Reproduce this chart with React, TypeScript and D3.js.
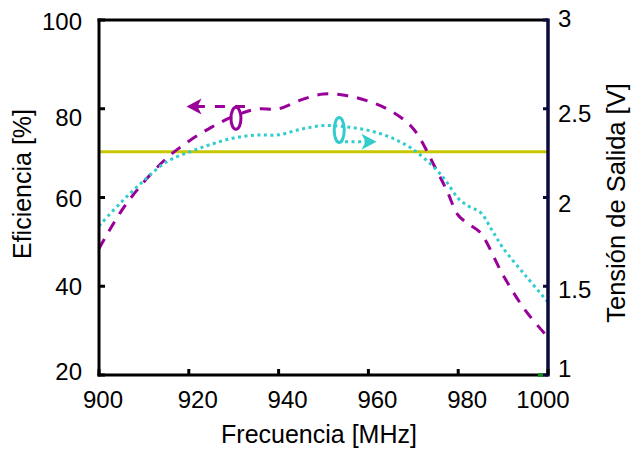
import React from "react";
import * as d3 from "d3";

// ---------- data ----------
const freqTicks = [900, 920, 940, 960, 980, 1000];
const effTicks = [20, 40, 60, 80, 100];
const voltTicks = [1, 1.5, 2, 2.5, 3];

const effFreq = [900, 905, 910, 915, 920, 925, 930, 935, 940, 945, 950, 955, 960, 965, 970, 975, 977.5, 980, 982.5, 985, 990, 995, 1000];
const effValues = [48.5, 57, 63.5, 68.8, 72.7, 75.8, 78.3, 79.9, 80, 82, 83.3, 83, 81.7, 79.5, 75.5, 66.5, 61.5, 56, 53.9, 52, 42.5, 34.5, 28.5];

const voltFreq = [900, 905, 910, 915, 920, 925, 930, 935, 940, 945, 950, 955, 960, 965, 970, 975, 977.5, 980, 982.5, 985, 987.5, 990, 995, 1000];
const voltValues = [1.84, 1.975, 2.095, 2.2, 2.255, 2.3, 2.335, 2.352, 2.353, 2.385, 2.405, 2.398, 2.378, 2.338, 2.27, 2.16, 2.085, 1.995, 1.948, 1.915, 1.817, 1.715, 1.56, 1.41];

const refFreq = [900, 1000];
const refEff = [70.3, 70.3];

const xLabel = "Frecuencia [MHz]";
const yLeftLabel = "Eficiencia [%]";
const yRightLabel = "Tensión de Salida [V]";

// ---------- layout / style ----------
const W = 632;
const H = 451;
const L = 99, R = 548, T = 20, B = 375;
const PURPLE = "#990099";
const CYAN = "#33cccc";
const YELLOW = "#c8c800";
const NAVY = "#0a0a3c";
const FONT = "'Liberation Sans', Arial, sans-serif";

export default function App() {
  const x = d3.scaleLinear().domain([900, 1000]).range([L, R]);
  const yL = d3.scaleLinear().domain([20, 100]).range([B, T]);
  const yR = d3.scaleLinear().domain([1, 3]).range([B, T]);

  const effPts: [number, number][] = effFreq.map((f, i) => [f, effValues[i]]);
  const voltPts: [number, number][] = voltFreq.map((f, i) => [f, voltValues[i]]);
  const refPts: [number, number][] = refFreq.map((f, i) => [f, refEff[i]]);

  const effLine = d3.line<[number, number]>().x(d => x(d[0])).y(d => yL(d[1])).curve(d3.curveCatmullRom.alpha(0.5));
  const voltLine = d3.line<[number, number]>().x(d => x(d[0])).y(d => yR(d[1])).curve(d3.curveCatmullRom.alpha(0.5));
  const refLine = d3.line<[number, number]>().x(d => x(d[0])).y(d => yL(d[1]));

  const bottomDx = (t: number) => (t === 900 ? 4 : t === 1000 ? -5 : 9);
  const leftDy: Record<number, number> = { 100: 1.5, 80: 9, 60: 1, 40: 0, 20: -3.5 };
  const rightDy: Record<number, number> = { 3: -1.5, 2.5: 4.5, 2: 6, 1.5: 3.5, 1: -7 };

  // annotations (data coords)
  const pEx = x(930.5), pEy = yL(77.85);
  const pArrowY = yL(80.5), pTip = x(919.5), pStart = x(932.5);
  const cEx = x(953.5), cEy = yR(2.38);
  const cArrowY = yR(2.314), cTip = x(961.8), cStart = x(954.8);

  return (
    <svg width={W} height={H} style={{ position: "absolute", left: 0, top: 0, background: "#fff" }} fontFamily={FONT}>
      <rect x={0} y={0} width={W} height={H} fill="#fff" />
      {/* reference line */}
      <path d={refLine(refPts) || ""} stroke={YELLOW} strokeWidth={3} fill="none" />
      {/* efficiency */}
      <path d={effLine(effPts) || ""} stroke={PURPLE} strokeWidth={3} fill="none" strokeDasharray="11,9" />
      {/* voltage */}
      <path d={voltLine(voltPts) || ""} stroke={CYAN} strokeWidth={3} fill="none" strokeDasharray="3,3.5" />

      {/* purple annotation */}
      <ellipse cx={pEx} cy={pEy} rx={5} ry={11} stroke={PURPLE} strokeWidth={3} fill="none" />
      <line x1={pStart} y1={pArrowY} x2={pTip + 10} y2={pArrowY} stroke={PURPLE} strokeWidth={3} strokeDasharray="10,10" />
      <path d={`M${pTip},${pArrowY} L${pTip + 15},${pArrowY - 8} L${pTip + 11},${pArrowY} L${pTip + 15},${pArrowY + 8} Z`} fill={PURPLE} />

      {/* cyan annotation */}
      <ellipse cx={cEx} cy={cEy} rx={5} ry={12.5} stroke={CYAN} strokeWidth={3} fill="none" />
      <line x1={cStart} y1={cArrowY} x2={cTip - 10} y2={cArrowY} stroke={CYAN} strokeWidth={3} strokeDasharray="3,3.5" />
      <path d={`M${cTip},${cArrowY} L${cTip - 15},${cArrowY - 8} L${cTip - 11},${cArrowY} L${cTip - 15},${cArrowY + 8} Z`} fill={CYAN} />

      {/* frame */}
      <line x1={L - 1.5} y1={T} x2={R} y2={T} stroke="#000" strokeWidth={3} />
      <line x1={L - 1.5} y1={B} x2={R} y2={B} stroke="#000" strokeWidth={3} />
      <line x1={L} y1={T - 1.5} x2={L} y2={B + 1.5} stroke="#000" strokeWidth={3} />
      <line x1={R} y1={T - 1.5} x2={R} y2={B + 1.5} stroke={NAVY} strokeWidth={3.5} />

      {/* tiny markers */}
      <rect x={538} y={373} width={5} height={4} fill="#1a8a1a" />

      {/* left ticks */}
      {effTicks.map(t => (
        <g key={"l" + t}>
          <line x1={L} x2={L + 6} y1={yL(t)} y2={yL(t)} stroke="#000" strokeWidth={3} />
          <text x={82} y={yL(t) + 8.5 + leftDy[t]} textAnchor="end" fontSize={24} fill="#000">{t}</text>
        </g>
      ))}
      {/* right ticks */}
      {voltTicks.map(t => (
        <g key={"r" + t}>
          <line x1={R - 5} x2={R} y1={yR(t)} y2={yR(t)} stroke={NAVY} strokeWidth={3} />
          <text x={558} y={yR(t) + 8.5 + rightDy[t]} textAnchor="start" fontSize={24} fill="#000">{t}</text>
        </g>
      ))}
      {/* bottom ticks */}
      {freqTicks.map(t => (
        <g key={"b" + t}>
          <line x1={x(t)} x2={x(t)} y1={B - 6} y2={B} stroke="#000" strokeWidth={3} />
          <text x={x(t) + bottomDx(t)} y={408} textAnchor="middle" fontSize={24} fill="#000">{t}</text>
        </g>
      ))}

      {/* titles */}
      <text x={319} y={443} textAnchor="middle" fontSize={25} fill="#000">{xLabel}</text>
      <text transform={`translate(31,184) rotate(-90)`} textAnchor="middle" fontSize={25} fill="#000">{yLeftLabel}</text>
      <text transform={`translate(625,203) rotate(-90)`} textAnchor="middle" fontSize={25.5} fill="#000">{yRightLabel}</text>
    </svg>
  );
}
